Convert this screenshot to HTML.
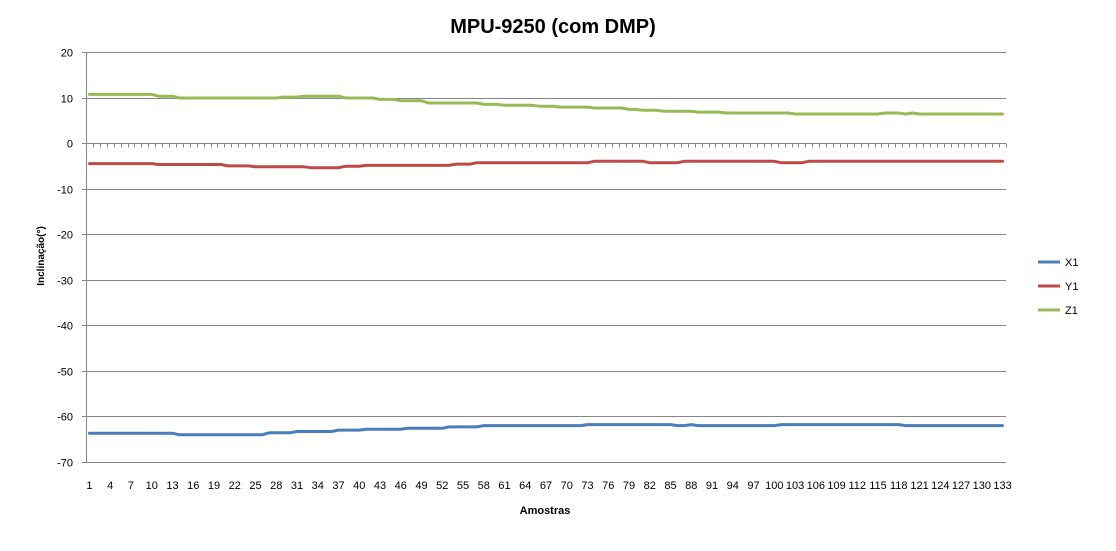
<!DOCTYPE html>
<html><head><meta charset="utf-8"><style>
body{margin:0;background:#fff;}
svg text{font-family:"Liberation Sans",sans-serif;fill:#000;}
</style></head><body>
<svg id="chart" width="1116" height="546" xmlns="http://www.w3.org/2000/svg">
<rect width="1116" height="546" fill="#fff"/>
<text x="553" y="33" text-anchor="middle" font-size="20" font-weight="bold">MPU-9250 (com DMP)</text>
<text transform="translate(44,256) rotate(-90)" text-anchor="middle" font-size="10" font-weight="bold">Inclinação(°)</text>
<text x="545" y="514" text-anchor="middle" font-size="11" font-weight="bold">Amostras</text>
<g id="grid"></g><g id="axes"></g><g id="series"></g><g id="legend"></g>
</svg>
<script>
const yTicks=[20,10,0,-10,-20,-30,-40,-50,-60,-70];
const seriesNames=["X1","Y1","Z1"];
const X1=[-63.7,-63.7,-63.7,-63.7,-63.7,-63.7,-63.7,-63.7,-63.7,-63.7,-63.7,-63.7,-63.7,
-64,-64,-64,-64,-64,-64,-64,-64,-64,-64,-64,-64,-64,
-63.6,-63.6,-63.6,-63.6,
-63.3,-63.3,-63.3,-63.3,-63.3,-63.3,
-63.0,-63.0,-63.0,-63.0,
-62.8,-62.8,-62.8,-62.8,-62.8,-62.8,
-62.6,-62.6,-62.6,-62.6,-62.6,-62.6,
-62.3,-62.3,-62.3,-62.3,-62.3,
-62,-62,-62,-62,-62,-62,-62,-62,-62,-62,-62,-62,-62,-62,-62,
-61.8,-61.8,-61.8,-61.8,-61.8,-61.8,-61.8,-61.8,-61.8,-61.8,-61.8,-61.8,-61.8,
-62,-62,
-61.8,
-62,-62,-62,-62,-62,-62,-62,-62,-62,-62,-62,-62,
-61.8,-61.8,-61.8,-61.8,-61.8,-61.8,-61.8,-61.8,-61.8,-61.8,-61.8,-61.8,-61.8,-61.8,-61.8,-61.8,-61.8,-61.8,
-62,-62,-62,-62,-62,-62,-62,-62,-62,-62,-62,-62,-62,-62,-62];
const Y1=[-4.5,-4.5,-4.5,-4.5,-4.5,-4.5,-4.5,-4.5,-4.5,-4.5,
-4.7,-4.7,-4.7,-4.7,-4.7,-4.7,-4.7,-4.7,-4.7,-4.7,
-5.0,-5.0,-5.0,-5.0,
-5.2,-5.2,-5.2,-5.2,-5.2,-5.2,-5.2,-5.2,
-5.4,-5.4,-5.4,-5.4,-5.4,
-5.1,-5.1,-5.1,
-4.9,-4.9,-4.9,-4.9,-4.9,-4.9,-4.9,-4.9,-4.9,-4.9,-4.9,-4.9,-4.9,
-4.6,-4.6,-4.6,
-4.3,-4.3,-4.3,-4.3,-4.3,-4.3,-4.3,-4.3,-4.3,-4.3,-4.3,-4.3,-4.3,-4.3,-4.3,-4.3,-4.3,
-4.0,-4.0,-4.0,-4.0,-4.0,-4.0,-4.0,-4.0,
-4.3,-4.3,-4.3,-4.3,-4.3,
-4.0,-4.0,-4.0,-4.0,-4.0,-4.0,-4.0,-4.0,-4.0,-4.0,-4.0,-4.0,-4.0,-4.0,
-4.3,-4.3,-4.3,-4.3,
-4.0,-4.0,-4.0,-4.0,-4.0,-4.0,-4.0,-4.0,-4.0,-4.0,-4.0,-4.0,-4.0,-4.0,-4.0,-4.0,-4.0,-4.0,-4.0,-4.0,-4.0,-4.0,-4.0,-4.0,-4.0,-4.0,-4.0,-4.0,-4.0];
const Z1=[10.7,10.7,10.7,10.7,10.7,10.7,10.7,10.7,10.7,10.7,
10.3,10.3,10.3,
9.9,9.9,9.9,9.9,9.9,9.9,9.9,9.9,9.9,9.9,9.9,9.9,9.9,9.9,9.9,
10.1,10.1,10.1,
10.3,10.3,10.3,10.3,10.3,10.3,
9.9,9.9,9.9,9.9,9.9,
9.6,9.6,9.6,
9.3,9.3,9.3,9.3,
8.8,8.8,8.8,8.8,8.8,8.8,8.8,8.8,
8.5,8.5,8.5,
8.3,8.3,8.3,8.3,8.3,
8.1,8.1,8.1,
7.9,7.9,7.9,7.9,7.9,
7.7,7.7,7.7,7.7,7.7,
7.4,7.4,
7.2,7.2,7.2,
7.0,7.0,7.0,7.0,7.0,
6.8,6.8,6.8,6.8,
6.6,6.6,6.6,6.6,6.6,6.6,6.6,6.6,6.6,6.6,
6.4,6.4,6.4,6.4,6.4,6.4,6.4,6.4,6.4,6.4,6.4,6.4,6.4,
6.6,6.6,6.6,
6.4,
6.6,
6.4,6.4,6.4,6.4,6.4,6.4,6.4,6.4,6.4,6.4,6.4,6.4,6.4];
const seriesColors=["#4a7ebb","#be4b48","#98b954"];
const seriesData=[X1,Y1,Z1];
const N=X1.length;
const L=86,R=1006,T=52,B=462;
const yMin=-70,yMax=20;
function yScale(v){return B-(v-yMin)/(yMax-yMin)*(B-T);}
function xScale(i){return L+(i+0.5)*(R-L)/N;}
const NS="http://www.w3.org/2000/svg";
function mk(tag,attrs,parent){const e=document.createElementNS(NS,tag);for(const k in attrs)e.setAttribute(k,attrs[k]);parent.appendChild(e);return e;}
const grid=document.getElementById('grid'),axes=document.getElementById('axes'),ser=document.getElementById('series'),leg=document.getElementById('legend');
yTicks.forEach(v=>{
  const y=Math.round(yScale(v))+0.5;
  const g=mk('line',{x1:L-4,x2:R,y1:y,y2:y,stroke:'#868686','stroke-width':1},grid);
  
  
  const t=mk('text',{x:73,y:y+4,'text-anchor':'end','font-size':11},axes);
  t.textContent=v;
  
  
});
const ya=mk('line',{x1:L+0.5,x2:L+0.5,y1:T,y2:B+0.5,stroke:'#868686','stroke-width':1},axes);


const y0=Math.round(yScale(0))+0.5;
for(let i=0;i<=N;i++){
  const x=Math.round(L+i*(R-L)/N)+0.5;
  const tk=mk('line',{x1:x,x2:x,y1:y0,y2:y0+4,stroke:'#868686','stroke-width':1},axes);
  
  
}
for(let i=0;i<N;i+=3){
  const t=mk('text',{x:xScale(i),y:489,'text-anchor':'middle','font-size':11},axes);
  t.textContent=(i+1);
  
  
}
seriesData.forEach((d,s)=>{
  const pts=d.map((v,i)=>xScale(i).toFixed(1)+','+yScale(v).toFixed(1)).join(' ');
  const p=mk('polyline',{points:pts,fill:'none',stroke:seriesColors[s],'stroke-width':3,'stroke-linejoin':'round','stroke-linecap':'round'},ser);
  
  
  const ly=262+s*24;
  const gl=mk('g',{},leg);
  
  
  mk('line',{x1:1038,x2:1060,y1:ly,y2:ly,stroke:seriesColors[s],'stroke-width':3},gl);
  const t=mk('text',{x:1065,y:ly+4,'font-size':11},gl);
  t.textContent=seriesNames[s];
});
</script>
</body></html>
